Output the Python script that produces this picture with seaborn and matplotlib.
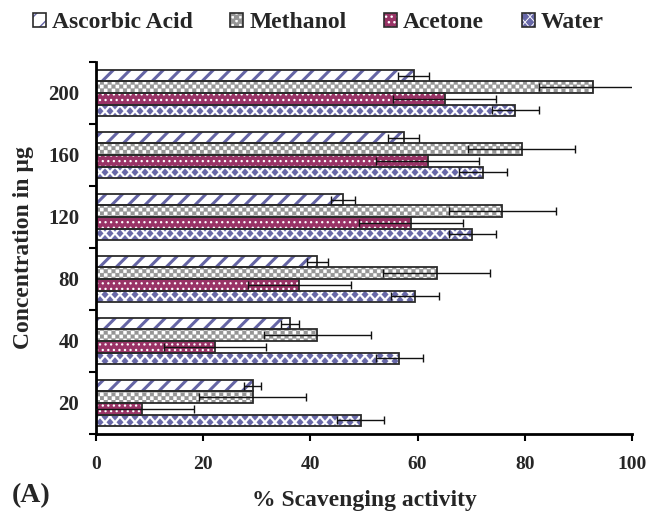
import warnings
warnings.filterwarnings("ignore")
import numpy as np
import pandas as pd
import matplotlib
matplotlib.use("Agg")
import matplotlib.pyplot as plt
import matplotlib.hatch as mhatch
import matplotlib.patches as mpatches
from matplotlib.path import Path
from matplotlib.legend_handler import HandlerTuple
from matplotlib.ticker import FixedLocator
import seaborn as sns

# ---------------- data ----------------
concentrations = ["200", "160", "120", "80", "40", "20"]
series = ["Ascorbic Acid", "Methanol", "Acetone", "Water"]
ascorbic = [59.3, 57.4, 46.1, 41.3, 36.2, 29.2]
ascorbic_err = [2.9, 2.9, 2.3, 2.0, 1.7, 1.5]
methanol = [92.7, 79.4, 75.8, 63.6, 41.3, 29.2]
methanol_err = [10.0, 10.0, 10.0, 10.0, 10.0, 10.0]
acetone = [65.1, 61.9, 58.8, 37.9, 22.2, 8.6]
acetone_err = [9.6, 9.6, 9.7, 9.6, 9.6, 9.7]
water = [78.2, 72.2, 70.2, 59.5, 56.6, 49.4]
water_err = [4.4, 4.4, 4.4, 4.4, 4.4, 4.4]

values = [ascorbic, methanol, acetone, water]
errors = [ascorbic_err, methanol_err, acetone_err, water_err]

# ---------------- custom hatches ----------------
class CheckerHatch(mhatch.HatchPatternBase):
    N = 26
    def __init__(self, hatch, density):
        self.num_vertices = (self.N * self.N // 2) * 5 if "C" in hatch else 0
    def set_vertices_and_codes(self, vertices, codes):
        n = self.N
        sq = np.array([[0, 0], [1, 0], [1, 1], [0, 1], [0, 0]], float) / n
        cds = [Path.MOVETO, Path.LINETO, Path.LINETO, Path.LINETO, Path.CLOSEPOLY]
        k = 0
        for i in range(n):
            for j in range(n):
                if (i + j) % 2 == 0:
                    vertices[k:k + 5] = sq + [i / n, j / n]
                    codes[k:k + 5] = cds
                    k += 5

class DiamondHatch(mhatch.HatchPatternBase):
    cols = 10
    rows = 18
    hw = 0.034
    hh = 0.038
    def __init__(self, hatch, density):
        self.num_vertices = (self.cols + 1) * (self.rows + 1) * 5 if "D" in hatch else 0
    def set_vertices_and_codes(self, vertices, codes):
        cds = [Path.MOVETO, Path.LINETO, Path.LINETO, Path.LINETO, Path.CLOSEPOLY]
        k = 0
        for r in range(self.rows + 1):
            y = r / self.rows
            shift = 0.5 / self.cols if r % 2 else 0.0
            for c in range(self.cols + 1):
                x = c / self.cols + shift
                d = np.array([[x - self.hw, y], [x, y + self.hh], [x + self.hw, y],
                              [x, y - self.hh], [x - self.hw, y]])
                vertices[k:k + 5] = d
                codes[k:k + 5] = cds
                k += 5

mhatch._hatch_types.append(CheckerHatch)
mhatch._hatch_types.append(DiamondHatch)

# styles per series: facecolor, hatch colour, hatch, hatch linewidth
styles = {
    "Ascorbic Acid": ("white", "#6565a5", "//", 2.2),
    "Methanol": ("white", "#969696", "C", 0.2),
    "Acetone": ("#993366", "white", "...", 0.9),
    "Water": ("white", "#6868a8", "D", 0.1),
}
outline = "#2b2b2b"

# ---------------- data frame ----------------
rows = []
for s, vals in zip(series, values):
    for c, v in zip(concentrations, vals):
        rows.append({"Concentration": c, "Series": s, "Value": v})
df = pd.DataFrame(rows)

sns.set_theme(style="white")
plt.rcParams["font.family"] = ["Liberation Serif", "DejaVu Serif"]
plt.rcParams["font.weight"] = "bold"

fig = plt.figure(figsize=(6.55, 5.12), dpi=100)
ax = fig.add_axes([96 / 655, 1 - 434 / 512, (632 - 96) / 655, (434 - 62) / 512])

sns.barplot(data=df, x="Value", y="Concentration", hue="Series",
            order=concentrations, hue_order=series, orient="h",
            width=0.75, errorbar=None, ax=ax, legend=False)

for s, cont, err in zip(series, ax.containers, errors):
    fc, hc, hatch, hlw = styles[s]
    centers = []
    widths = []
    for p in cont.patches:
        p.set_facecolor(fc)
        p.set_edgecolor(hc)
        p.set_linewidth(0)
        p.set_hatch(hatch)
        if hasattr(p, "set_hatch_linewidth"):
            p.set_hatch_linewidth(hlw)
        ax.add_patch(mpatches.Rectangle((p.get_x(), p.get_y()), p.get_width(), p.get_height(),
                                        fill=False, edgecolor=outline, linewidth=1.3,
                                        zorder=p.get_zorder() + 0.1))
        centers.append(p.get_y() + p.get_height() / 2)
        widths.append(p.get_width())
    ax.errorbar(widths, centers, xerr=err, fmt="none", ecolor="#111111",
                elinewidth=1.0, capsize=3, capthick=1.0, zorder=5)

ax.set_xlim(0, 100)
ax.set_ylim(5.5, -0.5)
ax.set_xticks([0, 20, 40, 60, 80, 100])
ax.set_xticklabels(["0", "20", "40", "60", "80", "100"])
ax.yaxis.set_minor_locator(FixedLocator(np.arange(-0.5, 6, 1.0)))
ax.tick_params(axis="y", which="major", length=0, pad=12, labelsize=15)
ax.tick_params(axis="y", which="minor", length=5, width=1.5, direction="out", color="black", left=True)
ax.tick_params(axis="x", which="major", length=5, width=1.5, direction="out", color="black",
               pad=11, labelsize=14, bottom=True)
for lab in ax.get_xticklabels() + ax.get_yticklabels():
    lab.set_fontweight("bold")
for side in ["top", "right"]:
    ax.spines[side].set_visible(False)
for side in ["left", "bottom"]:
    ax.spines[side].set_color("black")
    ax.spines[side].set_linewidth(2.0)

ax.set_xlabel("% Scavenging activity", fontsize=17, fontweight="bold", labelpad=12)
ax.set_ylabel("Concentration in µg", fontsize=17, fontweight="bold", labelpad=10)
fig.text(12 / 655, 1 - 496 / 512, "(A)", fontsize=20, fontweight="bold", va="center", ha="left")

handles = []
for s in series:
    fc, hc, hatch, hlw = styles[s]
    h1 = mpatches.Patch(facecolor=fc, edgecolor=hc, hatch=hatch, linewidth=0)
    if hasattr(h1, "set_hatch_linewidth"):
        h1.set_hatch_linewidth(hlw)
    h2 = mpatches.Patch(facecolor="none", edgecolor=outline, linewidth=1.2)
    handles.append((h1, h2))
fig.legend(handles, series, handler_map={tuple: HandlerTuple(ndivide=1, pad=0)},
           loc="center", bbox_to_anchor=(0.486, 1 - 23 / 512), ncol=4, frameon=False,
           prop={"family": "Liberation Serif", "weight": "bold", "size": 17},
           handlelength=0.55, handleheight=0.55, handletextpad=0.25, columnspacing=1.6)

fig.savefig("out.png", dpi=100)
